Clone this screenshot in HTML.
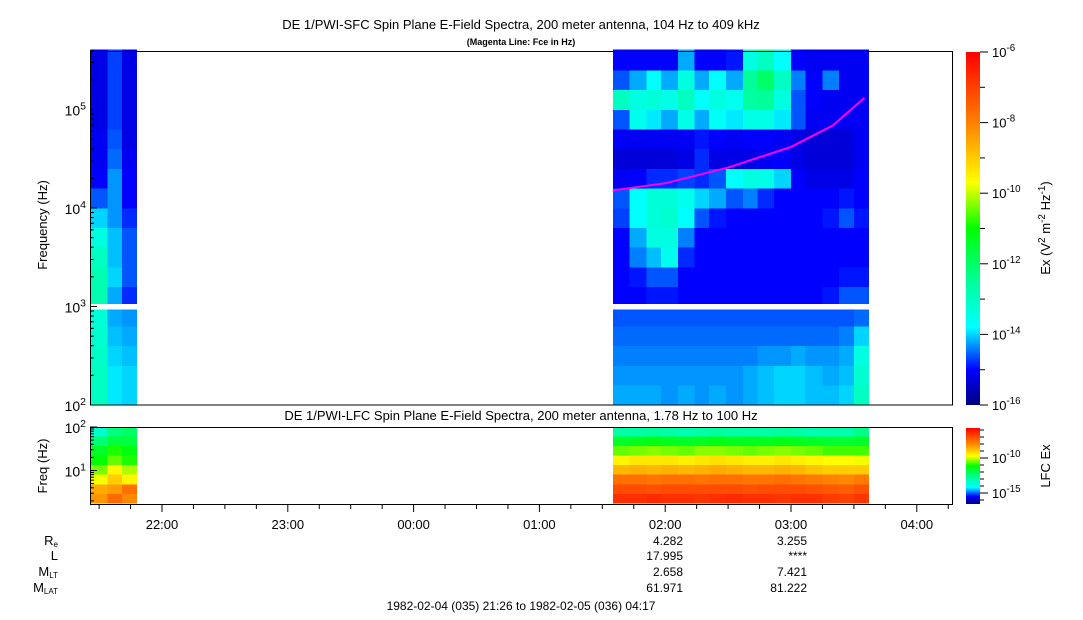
<!DOCTYPE html>
<html><head><meta charset="utf-8">
<style>
html,body{margin:0;padding:0;background:#fff;}
svg{display:block;font-family:"Liberation Sans",Arial,sans-serif;}
</style></head>
<body>
<svg id="chart" width="1083" height="620" viewBox="0 0 1083 620" xmlns="http://www.w3.org/2000/svg">
<defs>
<linearGradient id="cmap" x1="0" y1="1" x2="0" y2="0">
<stop offset="0" stop-color="#000080"/><stop offset="0.1" stop-color="#0000ff"/>
<stop offset="0.22" stop-color="#00ffff"/><stop offset="0.35" stop-color="#00ff99"/>
<stop offset="0.5" stop-color="#00ff00"/><stop offset="0.63" stop-color="#ffff00"/>
<stop offset="0.8" stop-color="#ff8000"/><stop offset="1" stop-color="#ff0000"/>
</linearGradient>
</defs>
<g id="cells"></g>
<g id="axes"></g>
</svg>
<script>
// ---- data ----
const sfcFreqEdgesLog = [2.0,2.2,2.4,2.6,2.8,2.97,3.03,3.2,3.4,3.6,3.8,4.0,4.2,4.4,4.6,4.8,5.0,5.2,5.4,5.61];
const rightTimesMin = [95,103,111,118,126,134,141,149,157,164,172,180,187,195,203,210,217];
const leftTimesMin = [-34,-26,-19,-12];
const rightSFC = [
 [-14.2,-14.2,-14.2,-14.3,-14.2,-14.3,-14.2,-14.3,-14.2,-14.1,-14.0,-14.0,-14.1,-14.1,-14.0,-13.0],
 [-14.3,-14.3,-14.3,-14.3,-14.3,-14.3,-14.3,-14.3,-14.2,-14.1,-14.0,-14.0,-14.1,-14.2,-14.1,-13.2],
 [-14.4,-14.4,-14.4,-14.4,-14.4,-14.4,-14.4,-14.4,-14.4,-14.3,-14.3,-14.2,-14.3,-14.3,-14.2,-13.4],
 [-14.5,-14.5,-14.5,-14.5,-14.5,-14.5,-14.5,-14.5,-14.5,-14.5,-14.5,-14.5,-14.5,-14.5,-14.4,-14.0],
 [-14.6,-14.6,-14.6,-14.6,-14.6,-14.6,-14.6,-14.6,-14.6,-14.6,-14.6,-14.6,-14.6,-14.6,-14.6,-14.5],
 [-15.0,-15.0,-14.9,-14.9,-15.0,-15.0,-15.0,-15.0,-15.0,-15.0,-15.0,-15.0,-15.0,-14.9,-14.6,-14.6],
 [-15.0,-14.9,-14.6,-14.6,-15.0,-15.0,-15.0,-15.0,-15.0,-15.0,-15.0,-15.0,-15.0,-15.0,-14.9,-14.9],
 [-15.0,-14.4,-14.1,-13.6,-14.8,-15.0,-15.0,-15.0,-15.0,-15.0,-15.0,-15.0,-15.0,-15.0,-15.0,-15.0],
 [-15.0,-14.2,-13.4,-13.4,-14.4,-15.0,-15.0,-15.0,-15.0,-15.0,-15.0,-15.0,-15.0,-15.0,-15.0,-15.0],
 [-14.7,-13.8,-13.3,-13.2,-13.8,-14.6,-14.9,-15.0,-15.0,-15.0,-15.0,-15.0,-15.0,-14.9,-14.6,-14.9],
 [-14.6,-13.8,-13.3,-13.3,-13.6,-14.0,-14.2,-14.6,-14.4,-14.8,-15.0,-15.0,-15.0,-15.0,-14.9,-15.0],
 [-15.1,-15.0,-14.8,-14.8,-14.7,-14.8,-14.6,-13.8,-13.4,-13.5,-14.0,-15.0,-15.2,-15.2,-15.2,-15.0],
 [-15.3,-15.3,-15.3,-15.3,-15.2,-14.8,-15.2,-15.2,-15.2,-15.1,-15.0,-15.2,-15.3,-15.3,-15.3,-15.1],
 [-15.1,-15.1,-15.1,-15.1,-15.1,-14.9,-15.0,-15.1,-15.0,-15.0,-15.1,-15.2,-15.3,-15.3,-15.3,-15.1],
 [-14.6,-13.6,-13.9,-14.2,-13.5,-14.2,-13.7,-13.9,-13.5,-13.5,-13.9,-14.6,-15.1,-15.1,-15.1,-15.1],
 [-13.0,-13.4,-13.3,-13.5,-13.0,-13.8,-13.4,-13.6,-12.6,-12.5,-13.4,-14.6,-15.0,-15.1,-15.1,-15.1],
 [-14.6,-14.2,-13.8,-14.2,-13.4,-14.2,-13.8,-14.2,-12.5,-12.0,-13.0,-14.4,-15.0,-14.4,-15.1,-15.1],
 [-15.0,-15.0,-15.0,-15.0,-14.2,-15.0,-15.0,-14.9,-13.4,-13.0,-13.8,-15.0,-15.1,-15.1,-15.1,-15.1]
];
const leftSFC = [
 [-13.0,-13.9,-14.0],[-13.0,-13.9,-14.0],[-13.1,-14.0,-14.1],[-13.2,-14.1,-14.2],[-13.3,-14.2,-14.3],
 [-12.8,-14.2,-14.8],[-12.8,-14.0,-14.6],[-13.0,-14.1,-14.6],[-13.4,-14.1,-14.6],[-14.0,-14.3,-14.8],
 [-14.6,-14.3,-15.0],[-15.0,-14.3,-15.0],[-15.1,-14.5,-15.1],[-15.1,-14.6,-15.2],[-15.2,-14.7,-15.2],
 [-15.2,-14.7,-15.2],[-15.2,-14.7,-15.2],[-15.2,-14.7,-15.2]
];
const lfcFreqEdgesLog = [0.25,0.47,0.69,0.91,1.13,1.35,1.57,1.79,2.0];
const rightLFC = [
 [-6.5,-6.5,-6.4,-6.5,-6.5,-6.6,-6.5,-6.4,-6.5,-6.5,-6.6,-6.5,-6.5,-6.7,-6.8,-6.6],
 [-7.0,-7.0,-7.1,-7.0,-7.0,-7.0,-7.0,-7.0,-7.1,-7.0,-7.0,-7.0,-7.1,-7.2,-7.3,-7.1],
 [-7.6,-7.6,-7.7,-7.6,-7.6,-7.7,-7.6,-7.6,-7.7,-7.7,-7.6,-7.7,-7.8,-7.9,-8.0,-7.8],
 [-8.7,-8.6,-8.7,-8.6,-8.7,-8.6,-8.5,-8.6,-8.7,-8.7,-8.6,-8.7,-8.9,-9.0,-9.0,-9.0],
 [-9.6,-9.4,-9.4,-9.4,-9.5,-9.4,-9.3,-9.4,-9.5,-9.5,-9.4,-9.5,-9.6,-9.7,-9.7,-9.8],
 [-10.6,-10.5,-10.4,-10.5,-10.6,-10.4,-10.4,-10.5,-10.6,-10.5,-10.4,-10.5,-10.6,-10.8,-10.8,-10.8],
 [-11.6,-11.5,-11.4,-11.5,-11.6,-11.5,-11.4,-11.5,-11.5,-11.5,-11.4,-11.5,-11.6,-11.7,-11.7,-11.6],
 [-13.0,-13.0,-12.9,-13.0,-13.1,-13.0,-12.9,-13.0,-13.0,-13.0,-12.9,-13.0,-13.1,-13.1,-13.1,-12.6]
];
const leftLFC = [
 [-8.2,-7.5,-8.0],[-8.5,-8.3,-7.6],[-9.8,-9.0,-9.6],[-10.5,-9.6,-10.2],
 [-11.2,-10.6,-11.0],[-11.6,-11.0,-11.3],[-12.4,-11.8,-11.8],[-13.5,-12.5,-12.2]
];
const fceTimesMin = [95,120,150,180,200,215];
const fceHz = [15100,17800,25700,41700,69000,131000];
const hourTickLabels = ["22:00","23:00","00:00","01:00","02:00","03:00","04:00"];
const ephemLabels = ["Re","L","MLT","MLAT"];
const ephem0200 = ["4.282","17.995","2.658","61.971"];
const ephem0300 = ["3.255","****","7.421","81.222"];
const sfcCbarTicks = [-6,-8,-10,-12,-14,-16];
const lfcCbarTicks = [-10,-15];

// ---- scales ----
const PXH=125.8/60;
function xM(m){ return 162 + (m + 120)*PXH; }
function ySFC(l){ return 405 - (l-2)*98.5; }
function yLFC(l){ return 427 + (2-l)*43.5; }
const stops=[[0,[0,0,128]],[0.1,[0,0,255]],[0.22,[0,255,255]],[0.35,[0,255,153]],[0.5,[0,255,0]],[0.63,[255,255,0]],[0.8,[255,128,0]],[1,[255,0,0]]];
function cmap(v,lo,hi){
  let t=Math.max(0,Math.min(1,(v-lo)/(hi-lo)));
  for(let i=1;i<stops.length;i++){ if(t<=stops[i][0]){ const a=stops[i-1],b=stops[i]; const f=(t-a[0])/(b[0]-a[0]);
    const c=a[1].map((x,k)=>Math.round(x+(b[1][k]-x)*f)); return `rgb(${c[0]},${c[1]},${c[2]})`; } }
  return 'rgb(255,0,0)';
}
const NS="http://www.w3.org/2000/svg";
const cells=document.getElementById('cells'), axes=document.getElementById('axes');
function mk(tag,attrs,parent){ const e=document.createElementNS(NS,tag); for(const k in attrs) e.setAttribute(k,attrs[k]); (parent||axes).appendChild(e); return e; }

function sfcRowSpan(r){
  if(r<=4){ return [sfcFreqEdgesLog[r], sfcFreqEdgesLog[r+1]]; }
  return [sfcFreqEdgesLog[r+1], sfcFreqEdgesLog[r+2]];
}
function drawGrid(data,times,spanFn,yFn,lo,hi,name){
  data.forEach((row,r)=>{ const [f0,f1]=spanFn(r);
    row.forEach((v,c)=>{ const x0=xM(times[c]), x1=xM(times[c+1]);
      const e=mk('rect',{x:x0.toFixed(2),y:yFn(f1).toFixed(2),width:(x1-x0+0.4).toFixed(2),height:(yFn(f0)-yFn(f1)+0.3).toFixed(2),fill:cmap(v,lo,hi),'shape-rendering':'crispEdges'},cells);
      
      
    });
  });
}
const rT = rightTimesMin.map(m=>m), lT = leftTimesMin.map(m=>m-120);
drawGrid(rightSFC,rT,sfcRowSpan,ySFC,-16,-6,'sfc-cell');
drawGrid(leftSFC,lT,sfcRowSpan,ySFC,-16,-6,'sfc-cell');
const lfcSpan=r=>[lfcFreqEdgesLog[r],lfcFreqEdgesLog[r+1]];
drawGrid(rightLFC,rT,lfcSpan,yLFC,-16.6,-5.7,'lfc-cell');
drawGrid(leftLFC,lT,lfcSpan,yLFC,-16.6,-5.7,'lfc-cell');

let d=''; fceTimesMin.forEach((m,i)=>{ d+=(i?'L':'M')+xM(m).toFixed(1)+','+ySFC(Math.log10(fceHz[i])).toFixed(1); });
const fl=mk('path',{d:d,fill:'none',stroke:'#ff00ff','stroke-width':2});
 

mk('rect',{x:90.5,y:51.5,width:862,height:353.5,fill:'none',stroke:'#000','stroke-width':1,});
mk('rect',{x:90.5,y:427.5,width:862,height:77,fill:'none',stroke:'#000','stroke-width':1,});

function sup(x,y,base,exp,anchor,size,name){
  const t=mk('text',{x:x,y:y,'font-size':size||13,'text-anchor':anchor||'end',fill:'#000',});
  t.innerHTML=`${base}<tspan dy="-6" font-size="${(size||13)*0.75}">${exp}</tspan>`; return t;
}
for(let dcd=2; dcd<=5; dcd++){
  for(let k=1;k<=9;k++){ const l=dcd+Math.log10(k); if(l>5.61) break; const y=ySFC(l);
    mk('line',{x1:90,x2:90+(k===1?7:4),y1:y,y2:y,stroke:'#000'}); }
  sup(86,ySFC(dcd)+6,'10',String(dcd),'end',14,'y-tick-label');
}
for(let k=2;k<=9;k++){ const l=Math.log10(k); if(l>=0.25){ mk('line',{x1:90,x2:94,y1:yLFC(l),y2:yLFC(l),stroke:'#000'}); } }
for(let k=1;k<=10;k++){ const l=1+Math.log10(k); const y=yLFC(l); mk('line',{x1:90,x2:90+(k===1||k===10?7:4),y1:y,y2:y,stroke:'#000'}); }
sup(86,yLFC(2)+6,'10','2','end',14,'lfc-y-tick-label');
sup(86,yLFC(1)+6,'10','1','end',14,'lfc-y-tick-label');
for(let m=-150;m<=255;m+=15){ const x=xM(m); if(x<91||x>952) continue; const maj=(m%60===0);
  mk('line',{x1:x,x2:x,y1:505,y2:505+(maj?7:4),stroke:'#000'}); }
hourTickLabels.forEach((lab,i)=>{ const t=mk('text',{x:xM(-120+60*i),y:529,'font-size':13,'text-anchor':'middle',}); t.textContent=lab; });
let t=mk('text',{x:521,y:29,'font-size':13,'text-anchor':'middle',}); t.textContent='DE 1/PWI-SFC  Spin Plane E-Field Spectra, 200 meter antenna, 104 Hz to 409 kHz';
t=mk('text',{x:521,y:45,'font-size':9,'font-weight':'bold','text-anchor':'middle',}); t.textContent='(Magenta Line: Fce in Hz)';
t=mk('text',{x:521,y:420,'font-size':13,'text-anchor':'middle',}); t.textContent='DE 1/PWI-LFC  Spin Plane E-Field Spectra, 200 meter antenna, 1.78 Hz to 100 Hz';
t=mk('text',{x:0,y:0,'font-size':13,'text-anchor':'middle',transform:'translate(47,225) rotate(-90)',}); t.textContent='Frequency (Hz)';
t=mk('text',{x:0,y:0,'font-size':13,'text-anchor':'middle',transform:'translate(47,466) rotate(-90)',}); t.textContent='Freq (Hz)';
const ephY=[545,560,576,592];
ephemLabels.forEach((lab,i)=>{
  const g=mk('text',{x:58,y:ephY[i],'font-size':13,'text-anchor':'end',});
  if(lab==='L'){ g.textContent='L'; } else { g.innerHTML=`${lab[0]}<tspan font-size="8" dy="2">${lab.slice(1)}</tspan>`; }
  let v=mk('text',{x:683,y:ephY[i],'font-size':12,'text-anchor':'end',}); v.textContent=ephem0200[i];
  v=mk('text',{x:807,y:ephY[i],'font-size':12,'text-anchor':'end',}); v.textContent=ephem0300[i];
});
t=mk('text',{x:521,y:610,'font-size':12,'text-anchor':'middle',}); t.textContent='1982-02-04 (035) 21:26 to 1982-02-05 (036) 04:17';
mk('rect',{x:966,y:52,width:14,height:353,fill:'url(#cmap)',});
mk('rect',{x:966,y:428,width:14,height:76,fill:'url(#cmap)',});
const cbY=e=>52+(-6-e)*35.3;
for(let e=-6;e>=-16;e--){ mk('line',{x1:980,x2:(e%2===0)?988:985,y1:cbY(e),y2:cbY(e),stroke:'#000'}); }
sfcCbarTicks.forEach(e=>sup(992,cbY(e)+5,'10',String(e),'start',13,'colorbar-tick-label'));
const cbL=e=>458+(-10-e)*7;
for(let e=-6;e>=-16;e--){ mk('line',{x1:980,x2:(e%5===0)?988:984,y1:cbL(e),y2:cbL(e),stroke:'#000'}); }
lfcCbarTicks.forEach(e=>sup(992,cbL(e)+5,'10',String(e),'start',13,'lfc-colorbar-tick-label'));
t=mk('text',{x:0,y:0,'font-size':13,'text-anchor':'middle',transform:'translate(1050,228) rotate(-90)',});
t.innerHTML='Ex (V<tspan dy="-5" font-size="10">2</tspan><tspan dy="5"> m</tspan><tspan dy="-5" font-size="10">-2</tspan><tspan dy="5"> Hz</tspan><tspan dy="-5" font-size="10">-1</tspan><tspan dy="5">)</tspan>';
t=mk('text',{x:0,y:0,'font-size':13,'text-anchor':'middle',transform:'translate(1050,466) rotate(-90)',}); t.textContent='LFC Ex';
</script>
</body></html>
